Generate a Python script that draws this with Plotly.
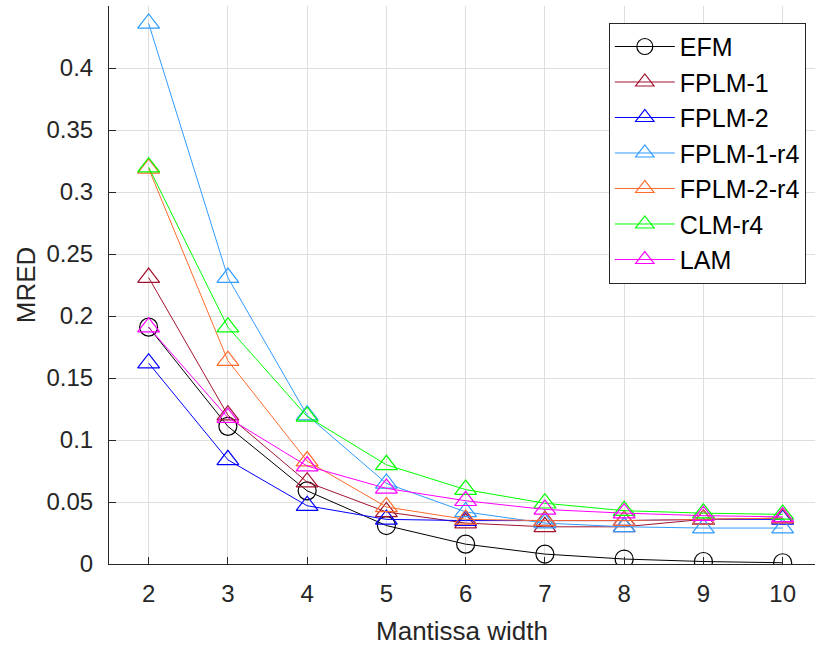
import plotly.graph_objects as go

mantissa = [2, 3, 4, 5, 6, 7, 8, 9, 10]
efm       = [0.191, 0.111, 0.059, 0.031, 0.016, 0.008, 0.004, 0.002, 0.001]
fplm1     = [0.231, 0.120, 0.066, 0.042, 0.033, 0.030, 0.030, 0.036, 0.037]
fplm2     = [0.162, 0.084, 0.047, 0.036, 0.035, 0.035, 0.035, 0.036, 0.036]
fplm1_r4  = [0.436, 0.231, 0.120, 0.065, 0.042, 0.033, 0.030, 0.029, 0.029]
fplm2_r4  = [0.319, 0.164, 0.083, 0.046, 0.036, 0.035, 0.035, 0.036, 0.037]
clm_r4    = [0.320, 0.191, 0.119, 0.080, 0.060, 0.049, 0.043, 0.041, 0.040]
lam       = [0.191, 0.118, 0.079, 0.061, 0.051, 0.044, 0.041, 0.039, 0.038]

series = [
    ("EFM", efm, "#000000", "circle-open"),
    ("FPLM-1", fplm1, "#A2142F", "triangle-up-open"),
    ("FPLM-2", fplm2, "#0000FF", "triangle-up-open"),
    ("FPLM-1-r4", fplm1_r4, "#2F9BFF", "triangle-up-open"),
    ("FPLM-2-r4", fplm2_r4, "#FF6B2B", "triangle-up-open"),
    ("CLM-r4", clm_r4, "#00FF00", "triangle-up-open"),
    ("LAM", lam, "#FF00FF", "triangle-up-open"),
]

fig = go.Figure()
for name, vals, col, sym in series:
    fig.add_trace(go.Scatter(
        x=mantissa, y=vals, name=name, mode="lines+markers",
        line=dict(color=col, width=1),
        marker=dict(symbol=sym, size=18 if sym == "circle-open" else 19,
                    color=col, line=dict(color=col, width=1.2)),
    ))

axis_col = "#262626"
fig.update_layout(
    width=815, height=650,
    margin=dict(l=109, r=0, t=6, b=86),
    plot_bgcolor="white", paper_bgcolor="white",
    font=dict(family="Liberation Sans, Arial, sans-serif", size=24, color=axis_col),
    showlegend=True,
    legend=dict(
        x=0.987, y=0.97, xanchor="right", yanchor="top",
        bgcolor="white", bordercolor=axis_col, borderwidth=1,
        font=dict(size=25, color="#000000"),
        itemwidth=60, tracegroupgap=0,
    ),
    xaxis=dict(
        range=[1.5, 10.408], tickvals=mantissa,
        showgrid=True, gridcolor="#dedede", gridwidth=1,
        showline=True, linecolor=axis_col, linewidth=1,
        ticks="inside", ticklen=7, tickcolor=axis_col,
        zeroline=False, ticklabelstandoff=8,
        title=dict(text="Mantissa width", font=dict(size=26), standoff=16),
    ),
    yaxis=dict(
        range=[0, 0.45], tickvals=[0, 0.05, 0.1, 0.15, 0.2, 0.25, 0.3, 0.35, 0.4],
        ticktext=["0", "0.05", "0.1", "0.15", "0.2", "0.25", "0.3", "0.35", "0.4"],
        showgrid=True, gridcolor="#dedede", gridwidth=1,
        showline=True, linecolor=axis_col, linewidth=1,
        ticks="inside", ticklen=7, tickcolor=axis_col,
        zeroline=False, ticklabelstandoff=10,
        title=dict(text="MRED", font=dict(size=26), standoff=3),
    ),
)

fig.write_html("out.html")
